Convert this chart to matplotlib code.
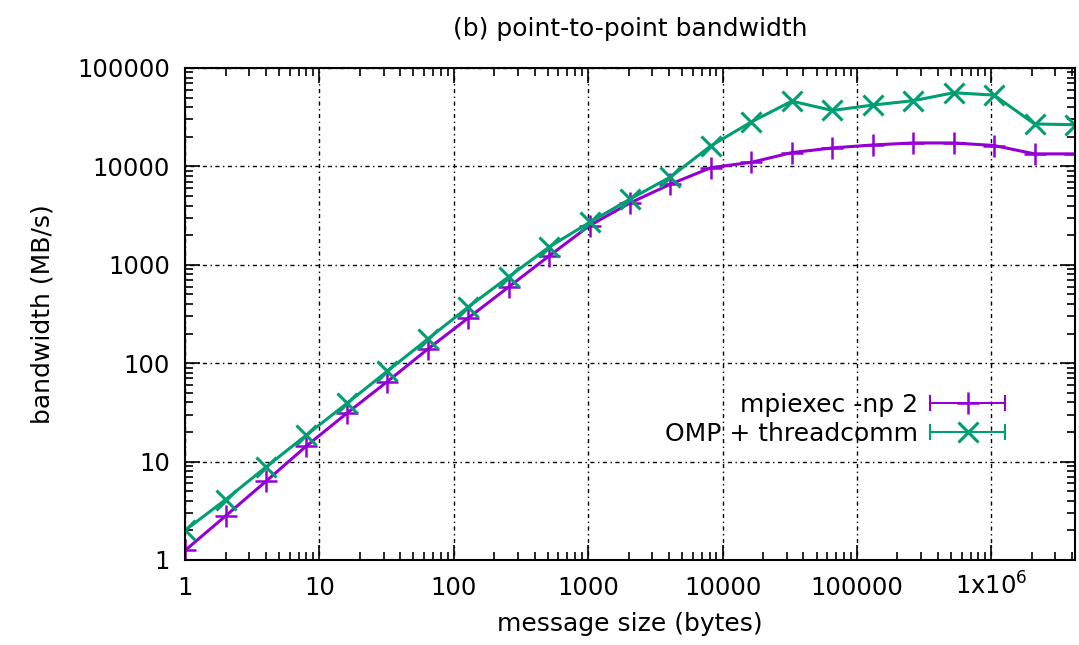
import numpy as np
import matplotlib
matplotlib.use('Agg')
import matplotlib.pyplot as plt
from matplotlib.lines import Line2D
from matplotlib.legend_handler import HandlerBase
from matplotlib.ticker import FixedLocator, LogLocator, NullFormatter

# message sizes 2^0 .. 2^22 bytes
sizes = [2 ** k for k in range(23)]

# bandwidth in MB/s
bw_mpi = [1.25, 2.8, 6.3, 14.4, 31, 65, 139, 288, 595, 1230, 2500, 4250, 6600,
          9700, 11000, 13800, 15400, 16500, 17300, 17300, 16300, 13400, 13400]
bw_omp = [2.0, 4.1, 8.8, 18.6, 39, 83, 176, 372, 755, 1515, 2700, 4650, 7800,
          16200, 28300, 46000, 37000, 42000, 46500, 56000, 53000, 27000, 26500]

xticks = [1, 10, 100, 1000, 10000, 100000, 1000000]
xlabels = ['1', '10', '100', '1000', '10000', '100000', r'1x10$^{6}$']
yticks = [1, 10, 100, 1000, 10000, 100000]
ylabels = ['1', '10', '100', '1000', '10000', '100000']

purple = '#9400D3'
green = '#009E73'


class HandlerErr(HandlerBase):
    # gnuplot-like key sample: horizontal bar with caps and the point in the middle
    def create_artists(self, legend, orig, xd, yd, w, h, fontsize, trans):
        c = orig.get_color()
        y = yd + h / 2
        cap = h * 0.4
        arts = [
            Line2D([xd, xd + w], [y, y], color=c, lw=1.5),
            Line2D([xd, xd], [y - cap, y + cap], color=c, lw=1.5),
            Line2D([xd + w, xd + w], [y - cap, y + cap], color=c, lw=1.5),
            Line2D([xd + w / 2], [y], color=c, marker=orig.get_marker(),
                   ms=orig.get_markersize(), mew=orig.get_markeredgewidth(), ls='none'),
        ]
        for a in arts:
            a.set_transform(trans)
        return arts


plt.rcParams['font.family'] = 'DejaVu Sans'
plt.rcParams['mathtext.default'] = 'regular'
fig = plt.figure(figsize=(10.79, 6.45), dpi=100)
ax = fig.add_axes([0.1715, 0.1318, 0.8248, 0.7628])

l1, = ax.plot(sizes, bw_mpi, '-', marker='+', color=purple, lw=2.2, ms=16, mew=1.8,
              label='mpiexec -np 2')
l2, = ax.plot(sizes, bw_omp, '-', marker='x', color=green, lw=2.2, ms=14, mew=2.2,
              label='OMP + threadcomm')

ax.set_xscale('log')
ax.set_yscale('log')
ax.set_xlim(1, 2 ** 22)
ax.set_ylim(1, 100000)

ax.xaxis.set_major_locator(FixedLocator(xticks))
ax.set_xticklabels(xlabels)
ax.yaxis.set_major_locator(FixedLocator(yticks))
ax.set_yticklabels(ylabels)
for axis in (ax.xaxis, ax.yaxis):
    axis.set_minor_locator(LogLocator(base=10, subs=np.arange(2, 10), numticks=20))
    axis.set_minor_formatter(NullFormatter())

ax.tick_params(which='both', direction='in', top=True, right=True, labelsize=17.5, width=1.2)
ax.tick_params(which='major', length=11)
ax.tick_params(axis='x', which='major', pad=25)
ax.tick_params(axis='y', which='major', pad=11)
ax.tick_params(which='minor', length=5.5)
for lbl in ax.get_xticklabels():
    lbl.set_verticalalignment('baseline')
for s in ax.spines.values():
    s.set_linewidth(1.5)

ax.grid(True, which='major', color='black', lw=1, ls=(0, (1, 2.5, 3, 2.5)))

ax.set_title('(b) point-to-point bandwidth', fontsize=18, pad=23)
ax.set_xlabel('message size (bytes)', fontsize=18, labelpad=9)
ax.set_ylabel('bandwidth (MB/s)', fontsize=18, labelpad=16)

leg = ax.legend(handles=[l1, l2], loc='upper right', bbox_to_anchor=(0.947, 0.385),
                frameon=False, markerfirst=False, fontsize=18, handlelength=3.0,
                handletextpad=0.5, labelspacing=0.2,
                handler_map={Line2D: HandlerErr()})

fig.savefig('out.png', dpi=100)
